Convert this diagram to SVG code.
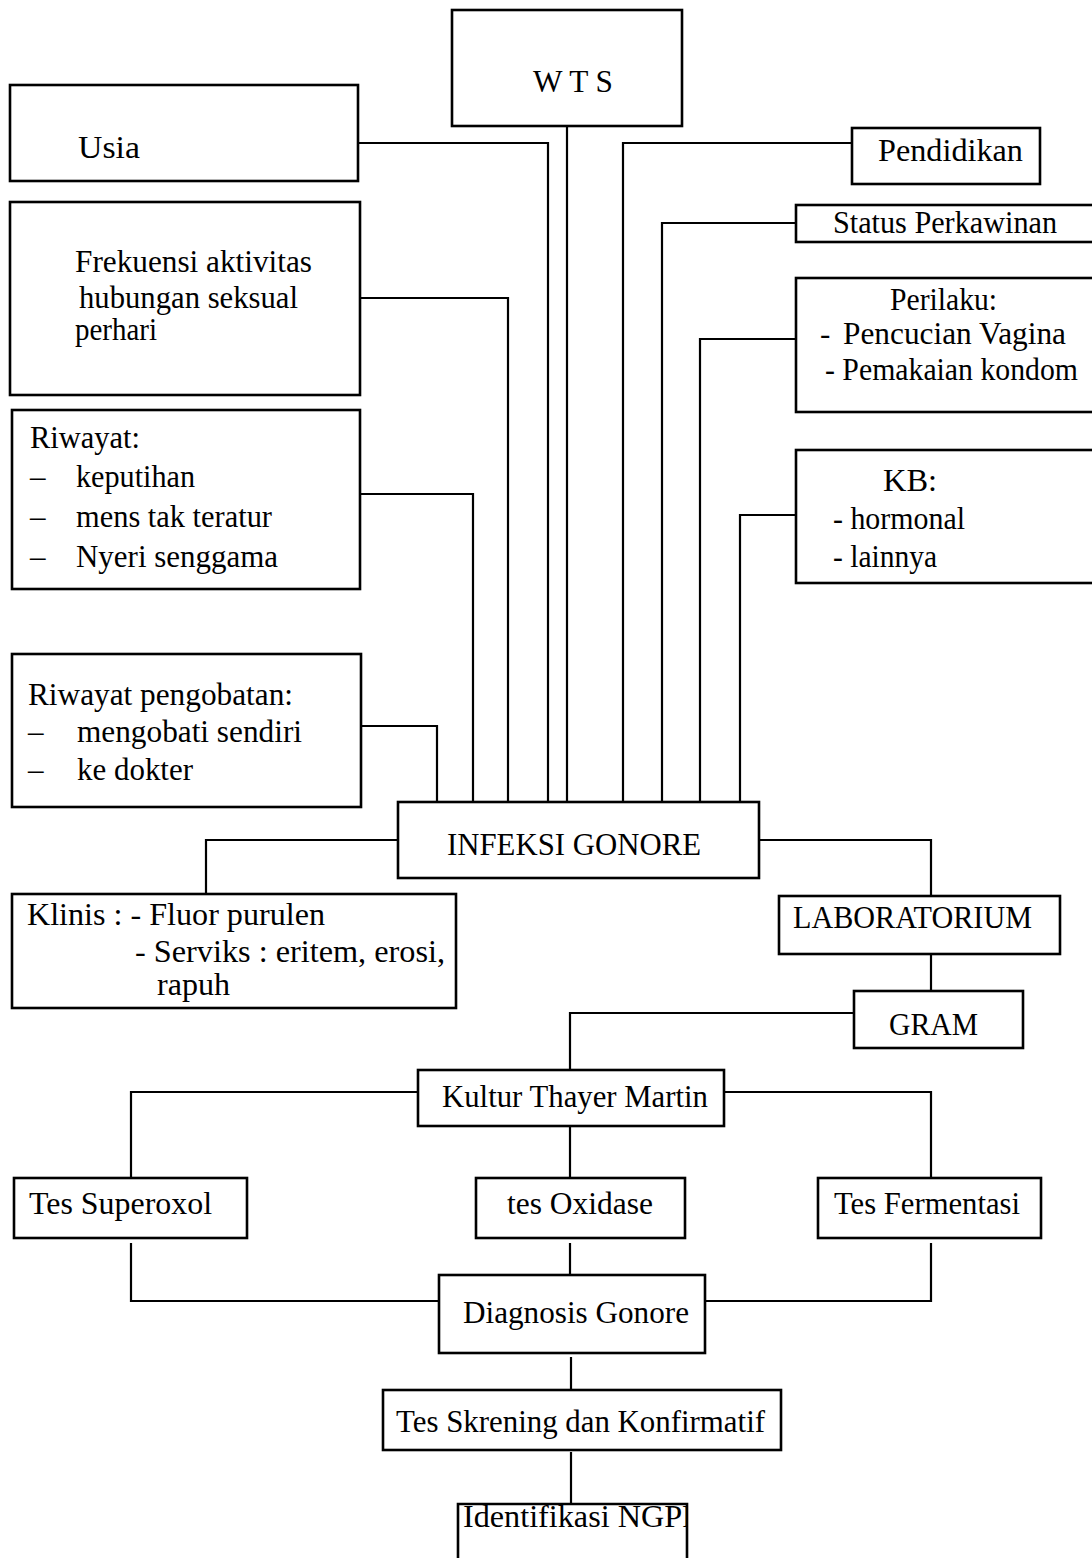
<svg xmlns="http://www.w3.org/2000/svg" width="1092" height="1558" viewBox="0 0 1092 1558">
<style>
.box{fill:#fff;stroke:#000;stroke-width:2.6}
.ln{fill:none;stroke:#000;stroke-width:2.2}
text{font-family:"Liberation Serif","Times New Roman",serif;font-size:31px;fill:#000}
</style>
<defs>
<clipPath id="clipIdent"><rect x="458" y="1504" width="228" height="60"/></clipPath>
</defs>
<rect width="1092" height="1558" fill="#fff"/>
<g id="connectors">
<path class="ln" d="M567,126 V802"/>
<path class="ln" d="M358,143 H548 V802"/>
<path class="ln" d="M360,298 H508 V802"/>
<path class="ln" d="M360,494 H473 V802"/>
<path class="ln" d="M361,726 H437 V802"/>
<path class="ln" d="M852,143 H623 V802"/>
<path class="ln" d="M796,223 H662 V802"/>
<path class="ln" d="M796,339 H700 V802"/>
<path class="ln" d="M796,515 H740 V802"/>
<path class="ln" d="M398,840 H206 V894"/>
<path class="ln" d="M759,840 H931 V896"/>
<path class="ln" d="M931,954 V991"/>
<path class="ln" d="M854,1013 H570 V1070"/>
<path class="ln" d="M418,1092 H131 V1178"/>
<path class="ln" d="M724,1092 H931 V1178"/>
<path class="ln" d="M570,1126 V1178"/>
<path class="ln" d="M131,1243 V1301 H439"/>
<path class="ln" d="M570,1243 V1275"/>
<path class="ln" d="M931,1243 V1301 H705"/>
<path class="ln" d="M571,1357 V1397"/>
<path class="ln" d="M571,1452 V1512"/>
</g>
<g id="wts"><rect class="box" x="452" y="10" width="230" height="116"/><text x="533" y="92" textLength="80" lengthAdjust="spacingAndGlyphs">W T S</text></g>
<g id="usia"><rect class="box" x="10" y="85" width="348" height="96"/><text x="78" y="158" textLength="62" lengthAdjust="spacingAndGlyphs">Usia</text></g>
<g id="frekuensi"><rect class="box" x="10" y="202" width="350" height="193"/>
<text x="75" y="272" textLength="237" lengthAdjust="spacingAndGlyphs">Frekuensi aktivitas</text>
<text x="79" y="308" textLength="219" lengthAdjust="spacingAndGlyphs">hubungan seksual</text>
<text x="75" y="340" textLength="82" lengthAdjust="spacingAndGlyphs">perhari</text></g>
<g id="riwayat"><rect class="box" x="12" y="410" width="348" height="179"/>
<text x="30" y="448" textLength="110" lengthAdjust="spacingAndGlyphs">Riwayat:</text>
<text x="30" y="487">–</text><text x="76" y="487" textLength="119" lengthAdjust="spacingAndGlyphs">keputihan</text>
<text x="30" y="527">–</text><text x="76" y="527" textLength="196" lengthAdjust="spacingAndGlyphs">mens tak teratur</text>
<text x="30" y="567">–</text><text x="76" y="567" textLength="202" lengthAdjust="spacingAndGlyphs">Nyeri senggama</text></g>
<g id="riwayat-pengobatan"><rect class="box" x="12" y="654" width="349" height="153"/>
<text x="28" y="705" textLength="265" lengthAdjust="spacingAndGlyphs">Riwayat pengobatan:</text>
<text x="28" y="742">–</text><text x="77" y="742" textLength="225" lengthAdjust="spacingAndGlyphs">mengobati sendiri</text>
<text x="28" y="780">–</text><text x="77" y="780" textLength="116" lengthAdjust="spacingAndGlyphs">ke dokter</text></g>
<g id="pendidikan"><rect class="box" x="852" y="128" width="188" height="56"/><text x="878" y="161" textLength="145" lengthAdjust="spacingAndGlyphs">Pendidikan</text></g>
<g id="status"><rect class="box" x="796" y="205" width="310" height="37"/><text x="833" y="233" textLength="224" lengthAdjust="spacingAndGlyphs">Status Perkawinan</text></g>
<g id="perilaku"><rect class="box" x="796" y="278" width="310" height="134"/>
<text x="890" y="310" textLength="107" lengthAdjust="spacingAndGlyphs">Perilaku:</text>
<text x="820" y="344">-</text><text x="843" y="344" textLength="223" lengthAdjust="spacingAndGlyphs">Pencucian Vagina</text>
<text x="825" y="380" textLength="253" lengthAdjust="spacingAndGlyphs">- Pemakaian kondom</text></g>
<g id="kb"><rect class="box" x="796" y="450" width="310" height="133"/>
<text x="883" y="491" textLength="54" lengthAdjust="spacingAndGlyphs">KB:</text>
<text x="833" y="529" textLength="132" lengthAdjust="spacingAndGlyphs">- hormonal</text>
<text x="833" y="567" textLength="104" lengthAdjust="spacingAndGlyphs">- lainnya</text></g>
<g id="infeksi"><rect class="box" x="398" y="802" width="361" height="76"/><text x="447" y="855" textLength="254" lengthAdjust="spacingAndGlyphs">INFEKSI GONORE</text></g>
<g id="klinis"><rect class="box" x="12" y="894" width="444" height="114"/>
<text x="27" y="925" textLength="298" lengthAdjust="spacingAndGlyphs">Klinis : - Fluor purulen</text>
<text x="135" y="962" textLength="310" lengthAdjust="spacingAndGlyphs">- Serviks : eritem, erosi,</text>
<text x="157" y="995" textLength="73" lengthAdjust="spacingAndGlyphs">rapuh</text></g>
<g id="laboratorium"><rect class="box" x="779" y="896" width="281" height="58"/><text x="793" y="928" textLength="239" lengthAdjust="spacingAndGlyphs">LABORATORIUM</text></g>
<g id="gram"><rect class="box" x="854" y="991" width="169" height="57"/><text x="889" y="1035" textLength="89" lengthAdjust="spacingAndGlyphs">GRAM</text></g>
<g id="kultur"><rect class="box" x="418" y="1070" width="306" height="56"/><text x="442" y="1107" textLength="266" lengthAdjust="spacingAndGlyphs">Kultur Thayer Martin</text></g>
<g id="superoxol"><rect class="box" x="14" y="1178" width="233" height="60"/><text x="29" y="1214" textLength="183" lengthAdjust="spacingAndGlyphs">Tes Superoxol</text></g>
<g id="oxidase"><rect class="box" x="476" y="1178" width="209" height="60"/><text x="507" y="1214" textLength="146" lengthAdjust="spacingAndGlyphs">tes Oxidase</text></g>
<g id="fermentasi"><rect class="box" x="818" y="1178" width="223" height="60"/><text x="834" y="1214" textLength="186" lengthAdjust="spacingAndGlyphs">Tes Fermentasi</text></g>
<g id="diagnosis"><rect class="box" x="439" y="1275" width="266" height="78"/><text x="463" y="1323" textLength="226" lengthAdjust="spacingAndGlyphs">Diagnosis Gonore</text></g>
<g id="skrening"><rect class="box" x="383" y="1390" width="398" height="60"/><text x="396" y="1432" textLength="369" lengthAdjust="spacingAndGlyphs">Tes Skrening dan Konfirmatif</text></g>
<g id="identifikasi"><path class="box" d="M458,1560 V1504 H687 V1560"/><text x="463" y="1527" textLength="237" lengthAdjust="spacingAndGlyphs" clip-path="url(#clipIdent)">Identifikasi NGPP</text></g>
</svg>
